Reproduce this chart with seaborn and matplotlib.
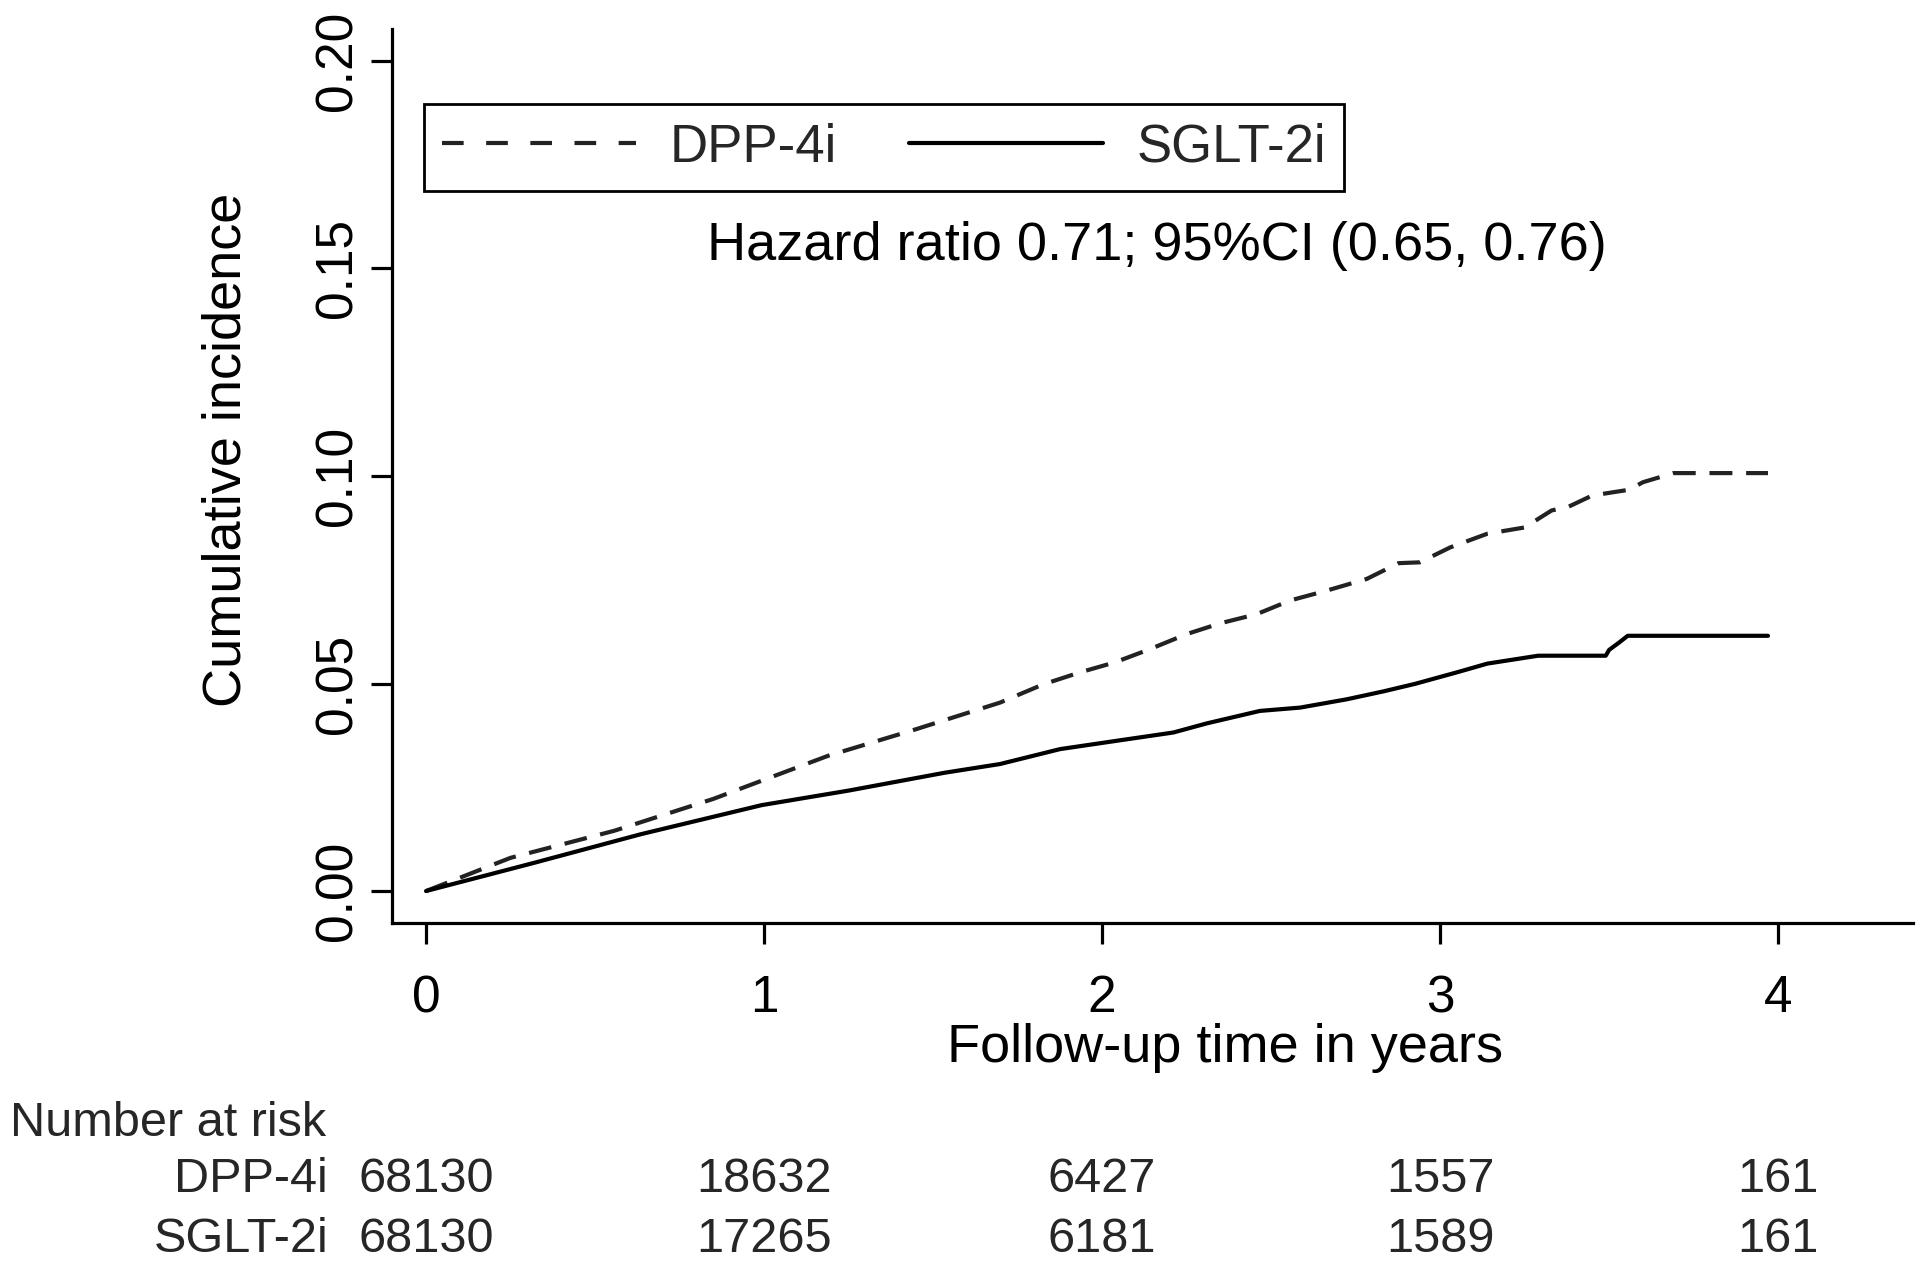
"""Cumulative incidence curves, DPP-4i vs SGLT-2i, with number-at-risk table."""
import matplotlib
matplotlib.use("Agg")
import matplotlib.pyplot as plt
from matplotlib.lines import Line2D
import seaborn as sns

# curves (years, cumulative incidence)
dpp_time = [0.0, 0.25, 0.556, 0.85, 1.0, 1.19, 1.45, 1.698, 1.826, 1.935, 2.038,
            2.142, 2.25, 2.349, 2.457, 2.556, 2.665, 2.783, 2.877, 2.94, 3.03,
            3.14, 3.25, 3.33, 3.38, 3.45, 3.56, 3.60, 3.69, 3.97]
dpp_inc = [0.0, 0.0080, 0.0145, 0.0222, 0.0268, 0.0326, 0.0390, 0.0454, 0.0498,
           0.0527, 0.0551, 0.0583, 0.0619, 0.0645, 0.0667, 0.0700, 0.0724,
           0.0752, 0.0790, 0.0792, 0.0828, 0.0861, 0.0876, 0.0917, 0.0926,
           0.0953, 0.0967, 0.0985, 0.1007, 0.1007]

sglt_time = [0.0, 0.32, 0.636, 0.993, 1.25, 1.534, 1.698, 1.876, 2.043, 2.211,
             2.31, 2.467, 2.586, 2.724, 2.832, 2.925, 3.05, 3.14, 3.29, 3.49,
             3.50, 3.53, 3.555, 3.97]
sglt_inc = [0.0, 0.0068, 0.0137, 0.0207, 0.0242, 0.0285, 0.0306, 0.0342, 0.0362,
            0.0382, 0.0404, 0.0434, 0.0442, 0.0462, 0.0481, 0.0499, 0.0527,
            0.0548, 0.0567, 0.0567, 0.0581, 0.0599, 0.0615, 0.0615]

# number at risk table
risk_times = [0, 1, 2, 3, 4]
risk_dpp = [68130, 18632, 6427, 1557, 161]
risk_sglt = [68130, 17265, 6181, 1589, 161]

x_ticks = [0, 1, 2, 3, 4]
y_ticks = [0.00, 0.05, 0.10, 0.15, 0.20]
hr_text = "Hazard ratio 0.71; 95%CI (0.65, 0.76)"


def main():
    sns.set_theme(style="white")
    plt.rcParams["font.family"] = ["Liberation Sans", "DejaVu Sans"]

    fig = plt.figure(figsize=(19.2, 12.62), dpi=100)
    ax = fig.add_axes([392 / 1920, 1 - 923 / 1262, 1521 / 1920, 894 / 1262])

    lw = 3.0
    sns.lineplot(x=dpp_time, y=dpp_inc, ax=ax, color="#222222", lw=lw,
                 linestyle=(0, (5.5, 3.3)), estimator=None, sort=False, legend=False)
    sns.lineplot(x=sglt_time, y=sglt_inc, ax=ax, color="black", lw=lw,
                 estimator=None, sort=False, legend=False)

    ax.set_xlim(-0.1006, 4.399)
    ax.set_ylim(-0.0077, 0.2077)
    ax.set_xticks(x_ticks)
    ax.set_xticklabels([str(t) for t in x_ticks])
    ax.set_yticks(y_ticks)
    ax.set_yticklabels([f"{v:.2f}" for v in y_ticks])

    for side in ["top", "right"]:
        ax.spines[side].set_visible(False)
    for side in ["left", "bottom"]:
        ax.spines[side].set_color("black")
        ax.spines[side].set_linewidth(2.3)

    ax.tick_params(axis="both", direction="out", length=15, width=2.3,
                   color="black", labelcolor="black", labelsize=37)
    ax.tick_params(axis="x", pad=22, bottom=True)
    ax.tick_params(axis="y", pad=6, labelrotation=90, left=True)
    for lab in ax.get_yticklabels():
        lab.set_verticalalignment("center")

    ax.set_xlabel("Follow-up time in years", fontsize=39, color="black", va="baseline")
    ax.xaxis.set_label_coords(0.5477, -0.1555)
    ax.set_ylabel("Cumulative incidence", fontsize=39, color="black", va="baseline")
    ax.yaxis.set_label_coords(-0.0993, 0.529)

    ax.text(2.163, 0.152, hr_text, fontsize=39, ha="center", va="baseline", color="black")

    handles = [
        Line2D([], [], color="#222222", lw=lw, linestyle=(0, (5.2, 5.4))),
        Line2D([], [], color="black", lw=lw),
    ]
    leg = ax.legend(handles, ["DPP-4i", "SGLT-2i"], ncol=2, loc="upper left",
                    bbox_to_anchor=(0.021, 0.916), borderaxespad=0, fontsize=38,
                    handlelength=3.66, handletextpad=0.64, columnspacing=1.38,
                    borderpad=0.35, fancybox=False, framealpha=1, edgecolor="black")
    leg.get_frame().set_linewidth(2.0)

    # number at risk table below the axis
    tr = ax.get_xaxis_transform()
    ax.text(-0.251, -0.238, "Number at risk", transform=ax.transAxes, fontsize=35,
            ha="left", va="baseline", clip_on=False)
    rows = [("DPP-4i", risk_dpp, -0.301), ("SGLT-2i", risk_sglt, -0.3675)]
    for name, counts, ypos in rows:
        ax.text(-0.042, ypos, name, transform=ax.transAxes, fontsize=35,
                ha="right", va="baseline", clip_on=False)
        for t, n in zip(risk_times, counts):
            ax.text(t, ypos, str(n), transform=tr, fontsize=35,
                    ha="center", va="baseline", clip_on=False)

    fig.savefig("out.png", dpi=100, facecolor="white")
    plt.close(fig)


if __name__ == "__main__":
    main()
